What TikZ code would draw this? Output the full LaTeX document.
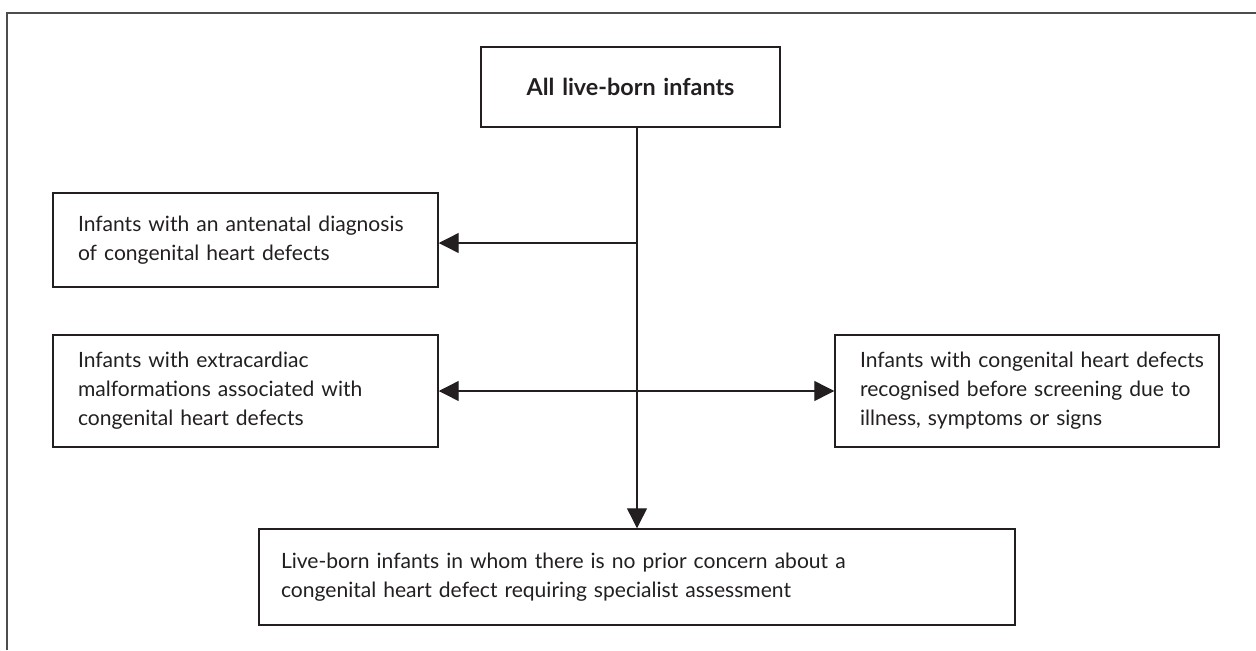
\documentclass[tikz,border=0pt]{standalone}
\usepackage{fontspec}
\setmainfont{Lato}
\usetikzlibrary{arrows.meta}
\definecolor{ink}{RGB}{35, 31, 32}
\newlength\px
\setlength\px{0.75pt}

\tikzset{
  flowbox/.style = {
    draw        = ink,
    line width  = 1.1pt,
    inner xsep  = 25\px,
    inner ysep  = 0pt,
    text width  = #1\px,
    align       = left,
    text        = ink,
    font        = \fontsize{15.8pt}{21.75pt}\selectfont
  },
  flowline/.style = {
    draw        = ink,
    line width  = 1pt,
    arrows      = {-Triangle[length=15pt, width=15pt]}
  }
}

\begin{document}
\begin{tikzpicture}[x=\px, y=-\px]
  \useasboundingbox (0,0) rectangle (1256,650);
  % frame
  \draw[ink!80, line width=1.5pt] (7,650) -- (7,13) -- (1256,13);

  % boxes
  \node[flowbox=249, minimum height=80\px, align=center,
        font=\fontsize{17.5pt}{21.75pt}\selectfont\bfseries] (all) at (630.5,87)
    {All live-born infants};
  \node[flowbox=335, minimum height=94\px] (ante) at (245.5,240)
    {Infants with an antenatal diagnosis\\of congenital heart defects};
  \node[flowbox=335, minimum height=112\px] (extra) at (245.5,391)
    {Infants with extracardiac\\malformations associated with\\congenital heart defects};
  \node[flowbox=334, minimum height=112\px] (recog) at (1027,391)
    {\mbox{Infants with congenital heart defects}\\recognised before screening due to\\illness, symptoms or signs};
  \node[flowbox=712, minimum height=96\px, inner xsep=22\px] (none) at (637,577)
    {Live-born infants in whom there is no prior concern about a\\congenital heart defect requiring specialist assessment};

  % connectors
  \coordinate (split) at (637,243);
  \draw[flowline] (all.south -| none.north) -- (none.north);
  \draw[flowline] (split) -- (split -| ante.east);
  \draw[flowline, arrows={Triangle[length=15pt, width=15pt]-Triangle[length=15pt, width=15pt]}]
    (extra.east) -- (recog.west);
\end{tikzpicture}
\end{document}
